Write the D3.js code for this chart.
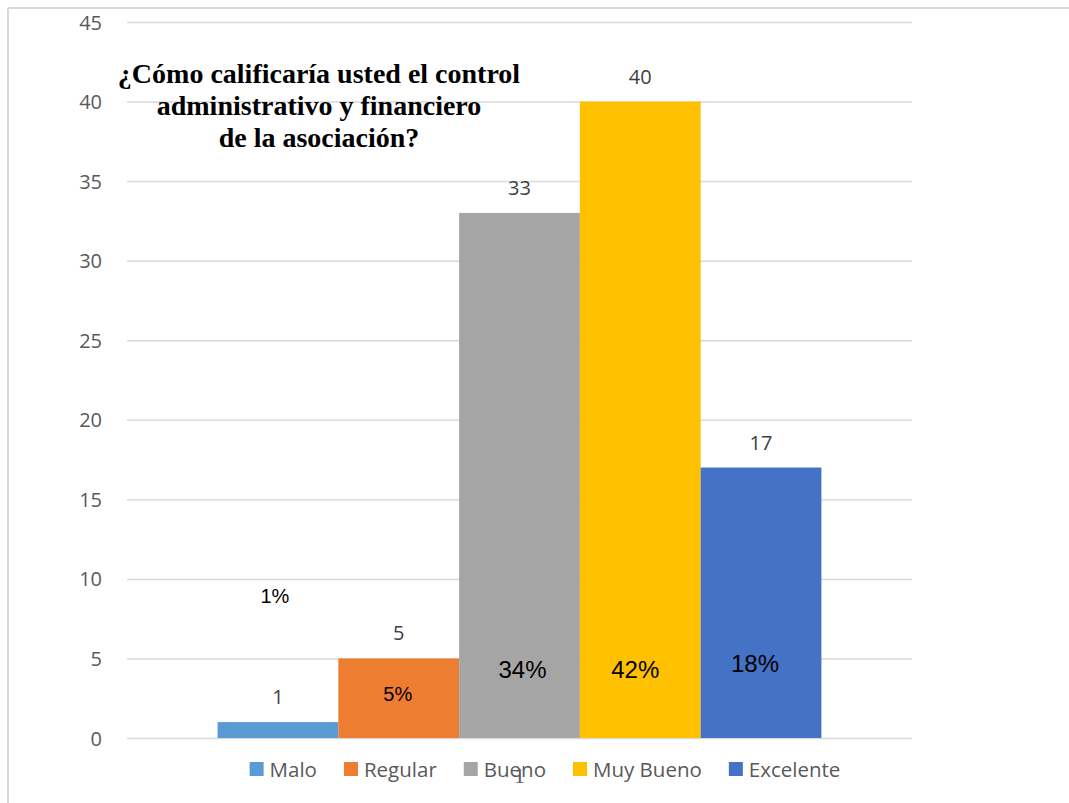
<!DOCTYPE html>
<html>
<head>
<meta charset="utf-8">
<script src="https://cdn.jsdelivr.net/npm/d3@7"></script>
<style>
  html, body { margin: 0; padding: 0; background: #ffffff; }
  svg { display: block; }
</style>
</head>
<body>
<svg id="chart" width="1069" height="803"></svg>
<script>
// Survey answers: one category group, five rating series
const categories = ["1"];
const seriesNames = ["Malo", "Regular", "Bueno", "Muy Bueno", "Excelente"];
const seriesValues = [1, 5, 33, 40, 17];
const seriesPercents = [1, 5, 34, 42, 18];
const yTicks = [0, 5, 10, 15, 20, 25, 30, 35, 40, 45];
const titleLines = ["¿Cómo calificaría usted el control", "administrativo y financiero", "de la asociación?"];

// Styling / layout
const colors = ["#5B9BD5", "#ED7D31", "#A5A5A5", "#FFC000", "#4472C4"];
const pctAnchor = [8.5, 2.3, 3.8, 3.8, 4.15];   // vertical anchor of percent labels, in axis units
const pctSize = [20, 20, 24, 24, 24];
const pctShift = [-3, -1, 3, -5, -6];           // small horizontal nudges of percent labels

const svg = d3.select("#chart");
const plot = { left: 127, right: 912, top: 22, bottom: 738 };
const uiFont = "'Open Sans', Lato, sans-serif";

// Frame lines (top and left edges of the chart box)
svg.append("line").attr("x1", 8).attr("x2", 1069).attr("y1", 8).attr("y2", 8)
  .attr("stroke", "#d9d9d9").attr("stroke-width", 2);
svg.append("line").attr("x1", 8).attr("x2", 8).attr("y1", 8).attr("y2", 803)
  .attr("stroke", "#d9d9d9").attr("stroke-width", 2);

const y = d3.scaleLinear().domain([0, 45]).range([plot.bottom, plot.top]);
const x0 = d3.scaleBand().domain(categories).range([plot.left, plot.right])
  .paddingInner(0).paddingOuter(0.15);
const x1 = d3.scaleBand().domain(seriesNames).range([0, x0.bandwidth()]).padding(0);

// Horizontal gridlines
const grid = svg.append("g").attr("transform", `translate(${plot.left},0)`)
  .call(d3.axisLeft(y).tickValues(yTicks).tickSize(-(plot.right - plot.left)).tickFormat(""));
grid.select(".domain").remove();
grid.selectAll(".tick line").attr("stroke", "#d9d9d9").attr("stroke-width", 1.5);

// Y axis labels
const yAxis = svg.append("g").attr("transform", "translate(102,0)")
  .call(d3.axisLeft(y).tickValues(yTicks).tickSize(0).tickPadding(0));
yAxis.select(".domain").remove();
yAxis.selectAll(".tick text")
  .attr("font-family", uiFont).attr("font-size", 20).attr("fill", "#595959")
  .attr("x", 0).attr("dy", "0.35em");

// Bars
const group = svg.append("g").selectAll("g").data(categories).join("g")
  .attr("transform", d => `translate(${x0(d)},0)`);

const rows = seriesNames.map((name, i) => ({ name, value: seriesValues[i], pct: seriesPercents[i], i }));

group.selectAll("rect").data(rows).join("rect")
  .attr("x", d => x1(d.name))
  .attr("width", x1.bandwidth())
  .attr("y", d => y(d.value))
  .attr("height", d => y(0) - y(d.value))
  .attr("fill", d => colors[d.i]);

// Value labels above bars
group.selectAll("text.value").data(rows).join("text")
  .attr("class", "value")
  .attr("x", d => x1(d.name) + x1.bandwidth() / 2)
  .attr("y", d => y(d.value) - 18)
  .attr("text-anchor", "middle")
  .attr("font-family", uiFont).attr("font-size", 20).attr("fill", "#404040")
  .text(d => d.value);

// Percent labels
group.selectAll("text.pct").data(rows).join("text")
  .attr("class", "pct")
  .attr("x", d => x1(d.name) + x1.bandwidth() / 2 + pctShift[d.i])
  .attr("y", d => y(pctAnchor[d.i]))
  .attr("text-anchor", "middle")
  .attr("font-family", "'Liberation Sans', Arial, sans-serif")
  .attr("font-size", d => pctSize[d.i]).attr("fill", "#000000")
  .text(d => d.pct + "%");

// Category axis
const xAxis = svg.append("g").attr("transform", `translate(0,${plot.bottom})`)
  .call(d3.axisBottom(x0).tickSize(0));
xAxis.select(".domain").remove();
xAxis.selectAll(".tick text")
  .attr("y", 45).attr("dy", 0)
  .attr("font-family", "'Liberation Serif', 'Times New Roman', serif")
  .attr("font-size", 22).attr("fill", "#595959");

// Legend
const legend = svg.append("g").attr("transform", "translate(0,762)");
const items = legend.selectAll("g").data(seriesNames).join("g");
items.append("rect").attr("width", 14).attr("height", 14).attr("fill", (d, i) => colors[i]);
items.append("text").attr("x", 20).attr("y", 14.5)
  .attr("font-family", uiFont).attr("font-size", 20.5).attr("fill", "#595959")
  .text(d => d);
let widths = [];
items.each(function () { widths.push(20 + this.querySelector("text").getComputedTextLength()); });
const gap = 27;
const total = d3.sum(widths) + gap * (widths.length - 1);
let cursor = 545 - total / 2;
items.attr("transform", (d, i) => {
  const t = `translate(${cursor},0)`;
  cursor += widths[i] + gap;
  return t;
});

// Title
const title = svg.append("text")
  .attr("font-family", "'Liberation Serif', 'Times New Roman', serif")
  .attr("font-weight", "bold").attr("font-size", 28).attr("fill", "#000000")
  .attr("text-anchor", "middle");
titleLines.forEach((line, i) => {
  title.append("tspan").attr("x", 319).attr("y", 83 + i * 32).text(line);
});
</script>
</body>
</html>
